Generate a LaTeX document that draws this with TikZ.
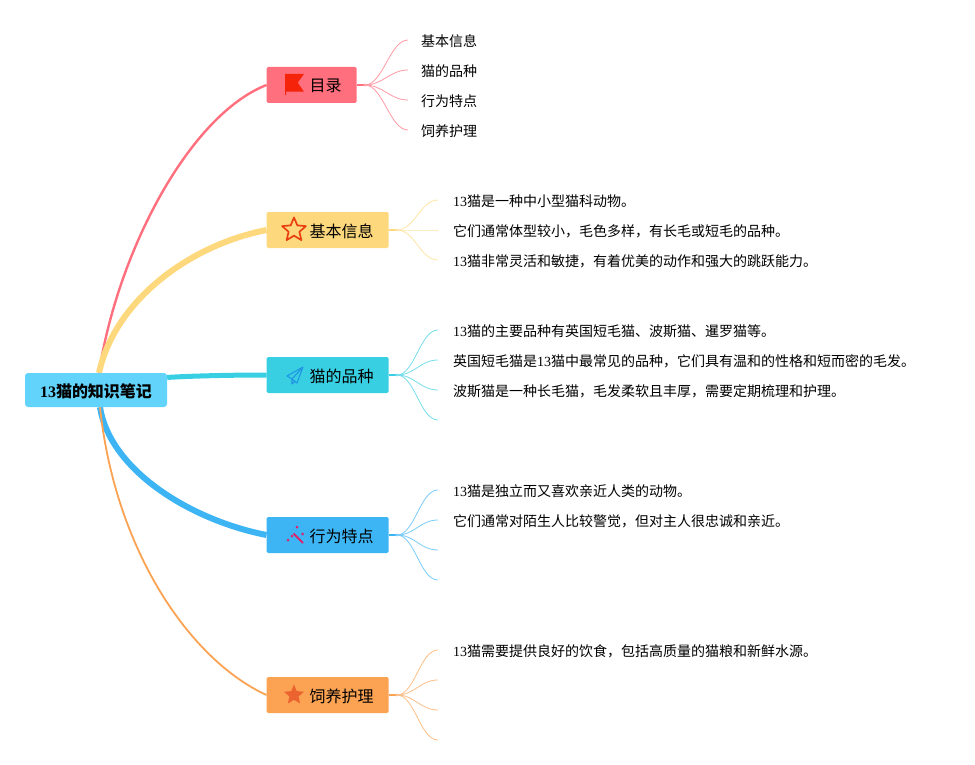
\documentclass[tikz,border=0pt]{standalone}
\usepackage{fontspec}
\setmainfont{Noto Sans CJK SC}
\newfontfamily\latinnum{Liberation Serif}
\usetikzlibrary{calc}
\usetikzlibrary{backgrounds}
\usetikzlibrary{shapes.geometric}
\definecolor{rootblue}{HTML}{62D3FB}
\definecolor{mulured}{HTML}{FF6F7D}
\definecolor{jibenyellow}{HTML}{FDD87C}
\definecolor{pinzhongcyan}{HTML}{38CFE3}
\definecolor{xingweiblue}{HTML}{3DB5F5}
\definecolor{siyangorange}{HTML}{FBA253}
\definecolor{flagred}{HTML}{F5230A}
\definecolor{staredge}{HTML}{E8400F}
\definecolor{planeblue}{HTML}{2196E3}
\definecolor{wandpink}{HTML}{D8246E}
\definecolor{starfill}{HTML}{EB6430}
\newcommand{\tn}{{\latinnum 13}}
\tikzset{
 root/.style={fill=rootblue, rounded corners=3, minimum height=34, inner xsep=15, inner ysep=0, text height=15, text depth=1, font=\fontsize{16}{16}\selectfont\bfseries},
 branch/.style={fill=#1, rounded corners=1.5, minimum height=36, inner xsep=15, inner ysep=0, text height=15, text depth=1, font=\fontsize{16}{16}\selectfont, anchor=west, execute at begin node={\hspace*{28pt}}},
 leaf/.style={anchor=west, inner xsep=15, inner ysep=0, text height=15, text depth=1.2, font=\fontsize{14}{14}\selectfont},
 twig/.style={#1!70!white, line width=.8},
 joint/.style={#1!60!white},
}
\begin{document}
\begin{tikzpicture}[x=1pt, y=-1pt]
\useasboundingbox (0,0) rectangle (975,765);
\node[root] (root) at (96,390) {\tn 猫的知识笔记};
\node[branch=mulured] (mulu) at (266.5,85) {目录};
\node[branch=jibenyellow] (jiben) at (266.5,230) {基本信息};
\node[branch=pinzhongcyan] (pinzhong) at (266.5,375) {猫的品种};
\node[branch=xingweiblue] (xingwei) at (266.5,535) {行为特点};
\node[branch=siyangorange] (siyang) at (266.5,695) {饲养护理};
\coordinate (roottop) at ($(root.north)+(3,0)$);
\coordinate (rootbottom) at ($(root.south)+(4,0)$);
% leaves
\foreach \i/\y/\t in {1/40/基本信息, 2/70/猫的品种, 3/100/行为特点, 4/130/饲养护理} {
 \node[leaf, inner xsep=13] (mulu\i) at (408,\y) {\t};
}
\foreach \i/\y/\t in {1/200/\tn 猫是一种中小型猫科动物。, 2/230/它们通常体型较小，毛色多样，有长毛或短毛的品种。, 3/260/\tn 猫非常灵活和敏捷，有着优美的动作和强大的跳跃能力。} {
 \node[leaf] (jiben\i) at (438,\y) {\t};
}
\foreach \i/\y/\t in {1/330/\tn 猫的主要品种有英国短毛猫、波斯猫、暹罗猫等。, 2/360/英国短毛猫是\tn 猫中最常见的品种，它们具有温和的性格和短而密的毛发。, 3/390/波斯猫是一种长毛猫，毛发柔软且丰厚，需要定期梳理和护理。} {
 \node[leaf] (pinzhong\i) at (438,\y) {\t};
}
\coordinate (pinzhong4) at (438,420);
\foreach \i/\y/\t in {1/490/\tn 猫是独立而又喜欢亲近人类的动物。, 2/520/它们通常对陌生人比较警觉，但对主人很忠诚和亲近。} {
 \node[leaf] (xingwei\i) at (438,\y) {\t};
}
\coordinate (xingwei3) at (438,550);
\coordinate (xingwei4) at (438,580);
\node[leaf] (siyang1) at (438,650) {\tn 猫需要提供良好的饮食，包括高质量的猫粮和新鲜水源。};
\coordinate (siyang2) at (438,680);
\coordinate (siyang3) at (438,710);
\coordinate (siyang4) at (438,740);
% icons
\fill[flagred] (285,74) -- (304,74) -- (297.7,82.7) -- (304,91.7) -- (286,91.7) -- (286,95) -- (285,95) -- cycle;
\node[star, star points=5, star point ratio=2.2, draw=staredge, line width=1.7, line join=round, minimum size=25, inner sep=0] (jibenstar) at (294,230) {};
\draw[planeblue, line width=1.1, line join=round] (303,367) -- (287,376) -- (292,379) -- (297,383) -- cycle (303,367) -- (292,379) -- (292,384) -- (295,381.5);
\draw[wandpink, line width=2] (293.5,533.5) -- (303,543);
\foreach \x/\y in {288/540, 292/536, 297/527, 302.7/534} {
 \fill[wandpink] (\x,\y) circle (1.5);
}
\node[star, star points=5, star point ratio=2.2, fill=starfill, minimum size=21, inner sep=0] (siyangstar) at (294,695) {};
\begin{pgfonlayer}{background}
\draw[mulured, line width=2.4] (roottop) .. controls (118,250) and (190,115) .. (mulu.west);
\draw[jibenyellow, line width=6] (roottop) .. controls (115,300) and (190,245) .. (jiben.west);
\draw[pinzhongcyan, line width=5] (root.10) .. controls (190,376) and (230,375) .. (pinzhong.west);
\draw[xingweiblue, line width=6] (rootbottom) .. controls (110,470) and (190,520) .. (xingwei.west);
\draw[siyangorange, line width=1.8] (rootbottom) .. controls (115,550) and (190,660) .. (siyang.west);
\foreach \n/\c/\l in {mulu/mulured/{1,2,3,4}, jiben/jibenyellow/{1,2,3}, pinzhong/pinzhongcyan/{1,2,3,4}, xingwei/xingweiblue/{1,2,3,4}, siyang/siyangorange/{1,2,3,4}} {
 \coordinate (\n joint) at ($(\n.east)+(8,0)$);
 \draw[\c, line width=1.4] (\n.east) -- (\n joint);
 \fill[joint=\c] (\n joint) circle (1.6);
 \foreach \i in \l {
  \draw[twig=\c] (\n joint) .. controls +(18,0) and +(-18,0) .. (\n\i.west);
 }
}
\end{pgfonlayer}
\end{tikzpicture}
\end{document}
